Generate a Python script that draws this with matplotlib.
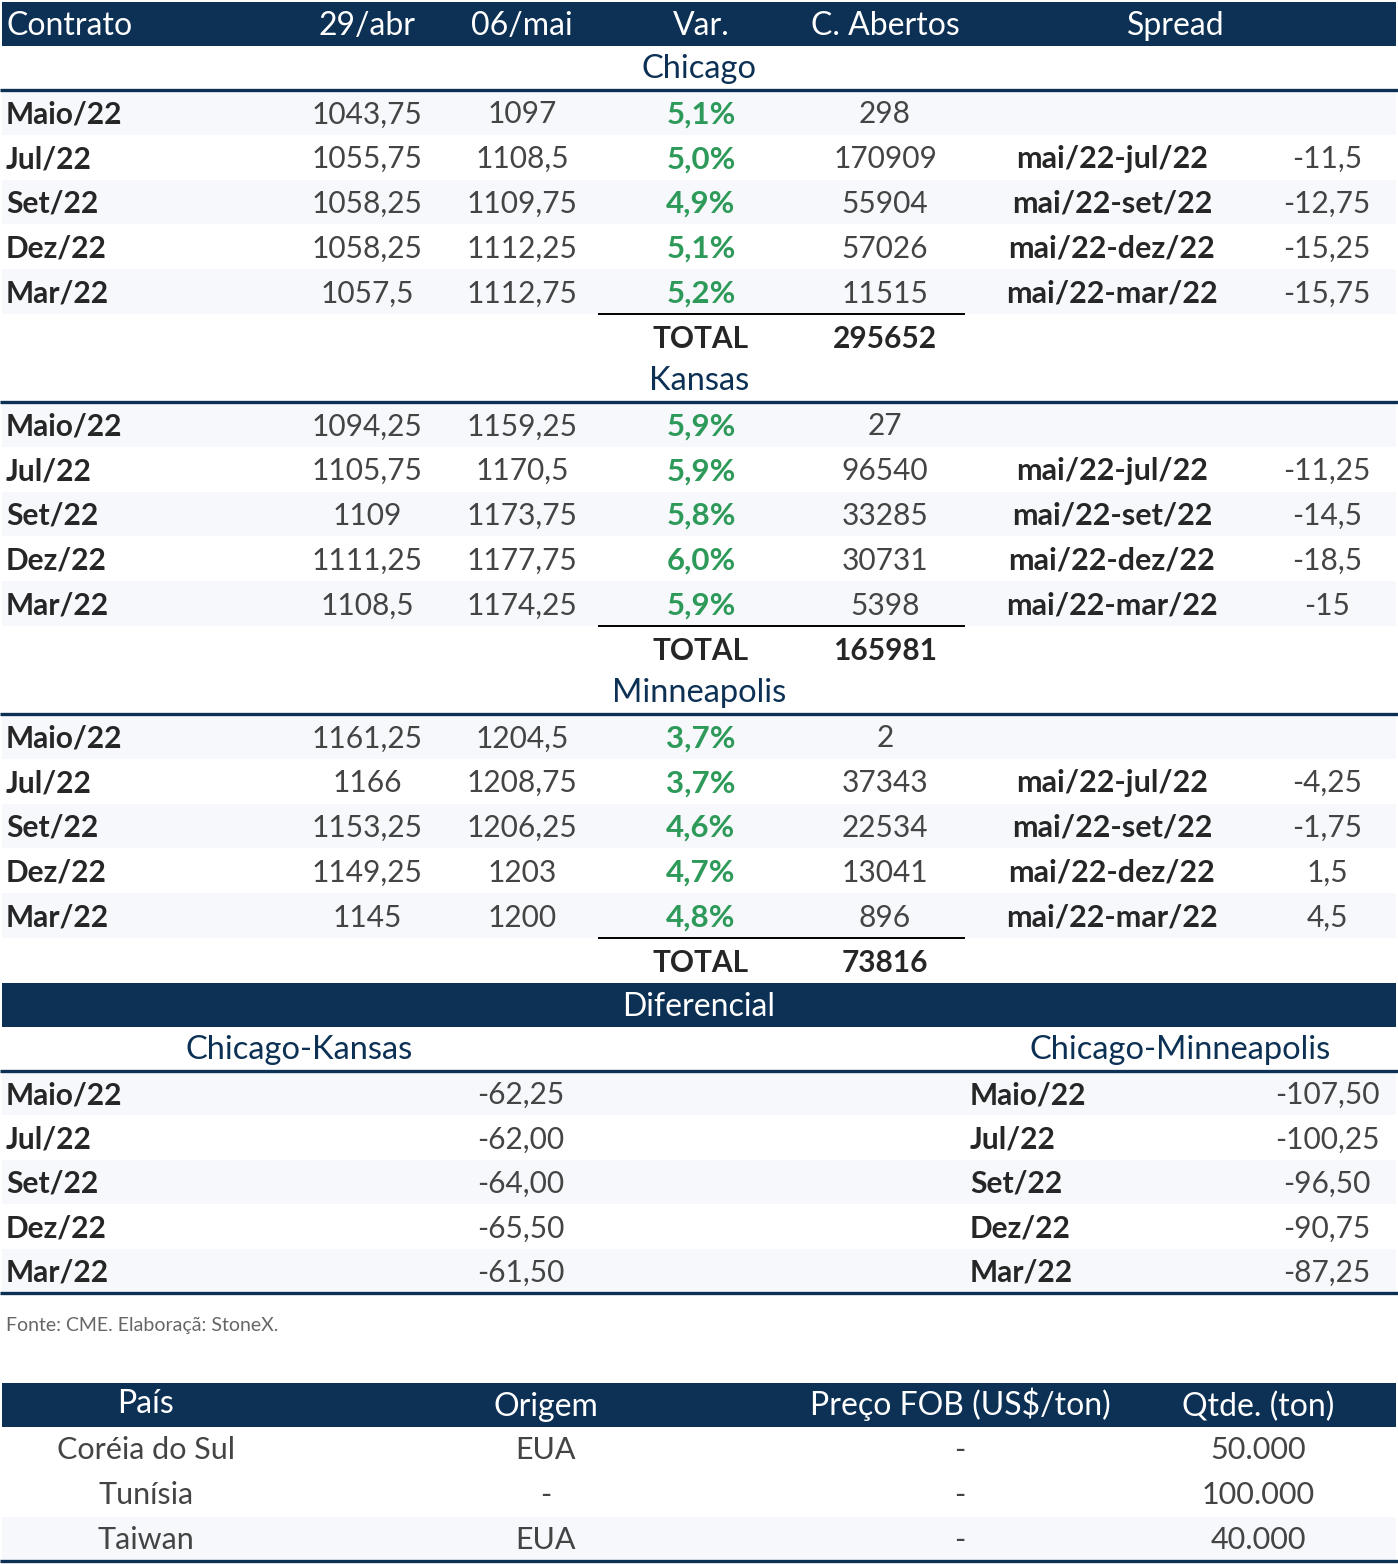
import matplotlib.pyplot as plt
from matplotlib.patches import Rectangle

plt.rcParams['font.family'] = ['Lato', 'DejaVu Sans']

# ---- data ----
header = ['Contrato', '29/abr', '06/mai', 'Var.', 'C. Abertos', 'Spread']
contracts = ['Maio/22', 'Jul/22', 'Set/22', 'Dez/22', 'Mar/22']
spread_labels = ['', 'mai/22-jul/22', 'mai/22-set/22', 'mai/22-dez/22', 'mai/22-mar/22']

chi_abr = [1043.75, 1055.75, 1058.25, 1058.25, 1057.5]
chi_mai = [1097, 1108.5, 1109.75, 1112.25, 1112.75]
chi_var = [5.1, 5.0, 4.9, 5.1, 5.2]
chi_oi = [298, 170909, 55904, 57026, 11515]
chi_spread = [None, -11.5, -12.75, -15.25, -15.75]
chi_total = 295652

kan_abr = [1094.25, 1105.75, 1109, 1111.25, 1108.5]
kan_mai = [1159.25, 1170.5, 1173.75, 1177.75, 1174.25]
kan_var = [5.9, 5.9, 5.8, 6.0, 5.9]
kan_oi = [27, 96540, 33285, 30731, 5398]
kan_spread = [None, -11.25, -14.5, -18.5, -15]
kan_total = 165981

min_abr = [1161.25, 1166, 1153.25, 1149.25, 1145]
min_mai = [1204.5, 1208.75, 1206.25, 1203, 1200]
min_var = [3.7, 3.7, 4.6, 4.7, 4.8]
min_oi = [2, 37343, 22534, 13041, 896]
min_spread = [None, -4.25, -1.75, 1.5, 4.5]
min_total = 73816

diff_chi_kan = [-62.25, -62.00, -64.00, -65.50, -61.50]
diff_chi_min = [-107.50, -100.25, -96.50, -90.75, -87.25]

paises = ['Coréia do Sul', 'Tunísia', 'Taiwan']
origem = ['EUA', '-', 'EUA']
preco_fob = ['-', '-', '-']
qtde = [50000, 100000, 40000]

# ---- style ----
NAVY = '#0c3155'
STRIPE = '#f6f8fb'
TXT = '#444444'
LAB = '#262626'
GREEN = '#2e9a5a'
FS = 21.5       # body values
FS_LAB = 21.5   # bold row labels
FS_SPR = 22     # spread labels
FS_VAR = 22.5   # green %
FS_HEAD = 23    # white headers
FS_TIT = 23.5   # navy section titles
DY = 2          # small vertical nudge


def num(v):
    return f'{v:g}'.replace('.', ',')


fig = plt.figure(figsize=(13.98, 15.64), dpi=100)
ax = fig.add_axes([0, 0, 1, 1])
ax.set_xlim(0, 1398)
ax.set_ylim(1564, 0)
ax.axis('off')


def band(y0, y1, color):
    ax.add_patch(Rectangle((2, y0), 1394, y1 - y0, color=color, lw=0, zorder=0))


def hline(y, x0=0, x1=1398, color=NAVY, lw=2.4):
    ax.plot([x0, x1], [y, y], color=color, lw=lw, solid_capstyle='butt', zorder=2)


def txt(x, y, s, **kw):
    kw.setdefault('ha', 'center')
    ax.text(x, y + DY, s, va='center', **kw)


# header
band(2, 46, NAVY)
col_x = [6, 367, 522, 701, 885, 1176]
for i, (h, x) in enumerate(zip(header, col_x)):
    txt(x, 24, h, color='white', fontsize=FS_HEAD, ha='left' if i == 0 else 'center')

sections = [
    ('Chicago', 67, chi_abr, chi_mai, chi_var, chi_oi, chi_spread, chi_total),
    ('Kansas', 379, kan_abr, kan_mai, kan_var, kan_oi, kan_spread, kan_total),
    ('Minneapolis', 691, min_abr, min_mai, min_var, min_oi, min_spread, min_total),
]
ROW = 44.8
for name, ty, abr, mai, var, oi, spr, total in sections:
    txt(699, ty, name, color=NAVY, fontsize=FS_TIT)
    top = ty + 23
    for i in range(5):
        y0 = top + i * ROW
        yc = y0 + ROW / 2
        if i % 2 == 0:
            band(y0, y0 + ROW, STRIPE)
        txt(6, yc, contracts[i], color=LAB, fontsize=FS_LAB, fontweight='bold', ha='left')
        txt(367, yc, num(abr[i]), color=TXT, fontsize=FS)
        txt(522, yc, num(mai[i]), color=TXT, fontsize=FS)
        txt(701, yc, f'{var[i]:.1f}%'.replace('.', ','), color=GREEN, fontsize=FS_VAR,
            fontweight='bold')
        txt(885, yc, str(oi[i]), color=TXT, fontsize=FS)
        if spr[i] is not None:
            txt(1112, yc, spread_labels[i], color=LAB, fontsize=FS_SPR, fontweight='bold')
            txt(1327, yc, num(spr[i]), color=TXT, fontsize=FS)
    hline(top, lw=2.4)
    ytot = top + 5 * ROW
    hline(ytot, 598, 965, color='black', lw=1.4)
    txt(701, ytot + 23, 'TOTAL', color=LAB, fontsize=FS_LAB, fontweight='bold')
    txt(885, ytot + 23, str(total), color=LAB, fontsize=FS_LAB, fontweight='bold')

# Diferencial
band(983, 1027, NAVY)
txt(699, 1005, 'Diferencial', color='white', fontsize=FS_HEAD)
txt(299, 1048, 'Chicago-Kansas', color=NAVY, fontsize=FS_TIT)
txt(1180, 1048, 'Chicago-Minneapolis', color=NAVY, fontsize=FS_TIT)
top = 1071
DROW = 44.4
for i in range(5):
    y0 = top + i * DROW
    yc = y0 + DROW / 2
    if i % 2 == 0:
        band(y0, y0 + DROW, STRIPE)
    txt(6, yc, contracts[i], color=LAB, fontsize=FS_LAB, fontweight='bold', ha='left')
    txt(521, yc, f'{diff_chi_kan[i]:.2f}'.replace('.', ','), color=TXT, fontsize=FS)
    txt(970, yc, contracts[i], color=LAB, fontsize=FS_LAB, fontweight='bold', ha='left')
    txt(1327, yc, f'{diff_chi_min[i]:.2f}'.replace('.', ','), color=TXT, fontsize=FS)
hline(top, lw=2.4)
hline(top + 5 * DROW, lw=2.4)

txt(6, 1323, 'Fonte: CME. Elaboraçã: StoneX.', color='#666666', fontsize=14, ha='left')

# second table
band(1383, 1427, NAVY)
t2_x = [146, 546, 960, 1258]
t2_head = ['País', 'Origem', 'Preço FOB (US$/ton)', 'Qtde. (ton)']
t2_hy = [1402, 1405, 1402, 1405]
for x, h, y in zip(t2_x, t2_head, t2_hy):
    txt(x, y, h, color='white', fontsize=FS_HEAD)
rows_y = [1448, 1493, 1538]
for i in range(3):
    if i == 2:
        band(1517, 1561, STRIPE)
    q = f'{qtde[i]:,}'.replace(',', '.')
    for x, s in zip(t2_x, [paises[i], origem[i], preco_fob[i], q]):
        txt(x, rows_y[i], s, color=TXT, fontsize=22)
hline(1561, lw=2.4)

fig.savefig('out.png', dpi=100)
